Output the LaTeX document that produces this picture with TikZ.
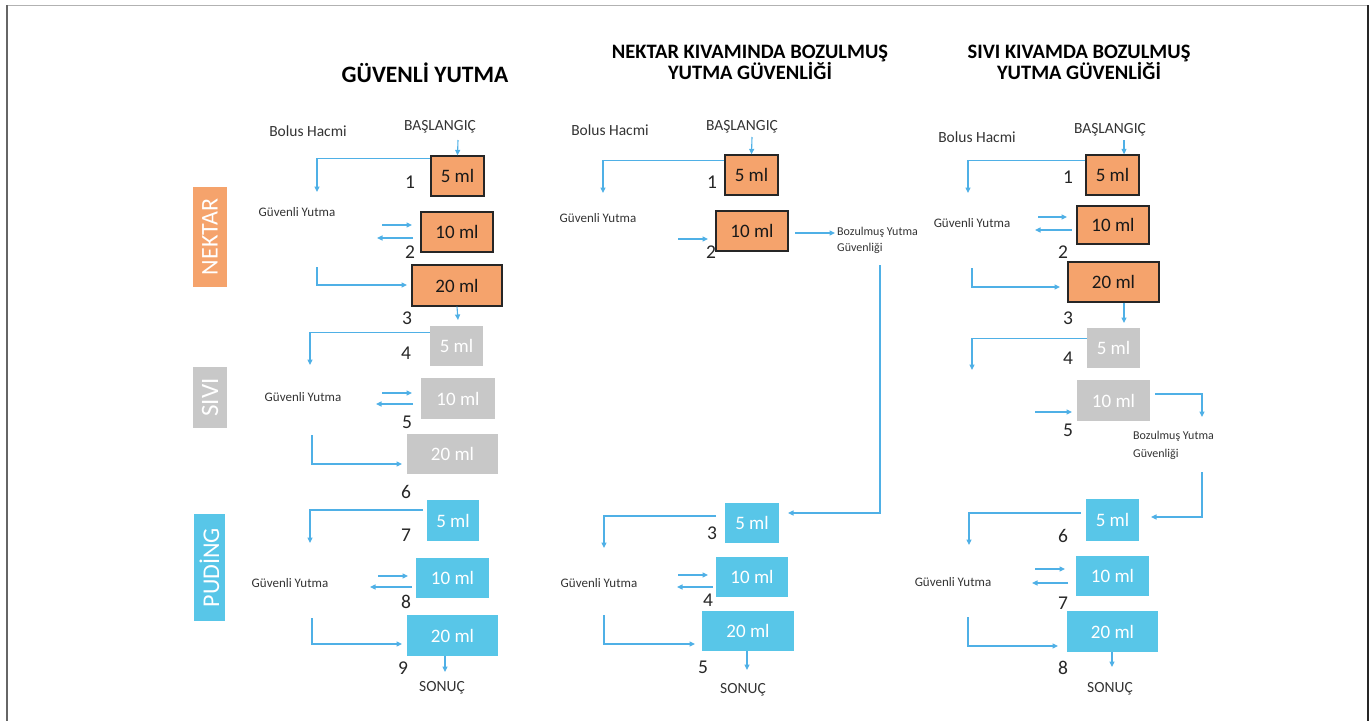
\documentclass[tikz,border=0pt]{standalone}
\usepackage{fontspec}
\setmainfont{Carlito}
\usetikzlibrary{arrows.meta}
\definecolor{orangeC}{HTML}{F5A36C}
\definecolor{grayC}{HTML}{C8C8C8}
\definecolor{blueC}{HTML}{58C6E8}
\definecolor{arrowC}{HTML}{4FB0E6}
\definecolor{txtC}{HTML}{333333}
\tikzset{
  box/.style={rectangle, inner sep=0pt, font=\fontsize{19}{21}\selectfont},
  obox/.style={box, fill=orangeC, draw=black!85, line width=1.3pt, text=black!90},
  gbox/.style={box, fill=grayC, text=white},
  bbox/.style={box, fill=blueC, text=white},
  arr/.style={draw=arrowC, line width=1.1pt, -{Triangle[length=5.5pt,width=5pt]}},
  ttl/.style={font=\bfseries\fontsize{20.5}{21}\selectfont, text=black, align=center},
  lbl/.style={font=\fontsize{15.5}{17}\selectfont, text=txtC, inner sep=0pt},
  gy/.style={font=\fontsize{13}{15}\selectfont, text=txtC, inner sep=0pt},
  bz/.style={font=\fontsize{12}{16}\selectfont, text=txtC, inner sep=0pt, align=left, anchor=west},
  num/.style={font=\fontsize{19.5}{21}\selectfont, text=black!85, inner sep=0pt},
  side/.style={rectangle, inner sep=0pt, text=white, font=\fontsize{24}{26}\selectfont}
}
\begin{document}
\begin{tikzpicture}[x=1pt,y=-1pt]
\useasboundingbox (0,0) rectangle (1371,721);
% frame
\draw[draw=black!30, line width=1pt] (7,5) -- (1368,5);
\draw[draw=black!60, line width=2pt] (7,5) -- (7,721);
\draw[draw=black!85, line width=1.5pt] (1368,5) -- (1368,721);

% side labels
\node[side, fill=orangeC, minimum width=34pt, minimum height=100pt] (sN) at (210,237) {};
\node[rotate=90, text=white, font=\fontsize{24}{25}\selectfont] (sNt) at (sN.center) {NEKTAR};
\node[side, fill=grayC, minimum width=34pt, minimum height=61pt] (sS) at (210,397.5) {};
\node[rotate=90, text=white, font=\fontsize{25}{27}\selectfont] (sSt) at (sS.center) {SIVI};
\node[side, fill=blueC, minimum width=31pt, minimum height=107pt] (sP) at (209.5,567.5) {};
\node[rotate=90, text=white, font=\fontsize{24}{25}\selectfont] (sPt) at (sP.center) {PUDİNG};

% ================= LEFT COLUMN =================
\node[ttl, font=\bfseries\fontsize{23.5}{25}\selectfont] (t1) at (425,73) {GÜVENLİ YUTMA};
\node[lbl] (bh1) at (308,131) {Bolus Hacmi};
\node[lbl] (s1) at (440,127) {BAŞLANGIÇ};
\node[obox, minimum width=53pt, minimum height=40pt] (b1) at (457.5,176) {5 ml};
\node[obox, minimum width=72pt, minimum height=40pt] (b2) at (457,232) {10 ml};
\node[obox, minimum width=90pt, minimum height=41pt] (b3) at (457,285.5) {20 ml};
\node[gbox, minimum width=53pt, minimum height=40pt] (b4) at (456.5,346) {5 ml};
\node[gbox, minimum width=74pt, minimum height=41pt] (b5) at (458,398.5) {10 ml};
\node[gbox, minimum width=91pt, minimum height=40pt] (b6) at (452.5,454) {20 ml};
\node[bbox, minimum width=52pt, minimum height=41pt] (b7) at (453,520.5) {5 ml};
\node[bbox, minimum width=73pt, minimum height=40pt] (b8) at (452.5,578) {10 ml};
\node[bbox, minimum width=91pt, minimum height=41pt] (b9) at (452.5,635.5) {20 ml};
\node[lbl] (son1) at (442,688) {SONUÇ};
\node[num] (ln1) at (410,182) {1};
\node[num] (ln2) at (410,252) {2};
\node[num] (ln3) at (407,318) {3};
\node[num] (ln4) at (406,353) {4};
\node[num] (ln5) at (407,422) {5};
\node[num] (ln6) at (406,492) {6};
\node[num] (ln7) at (406,535) {7};
\node[num] (ln8) at (406,602) {8};
\node[num] (ln9) at (403,668) {9};
\node[gy] (g1) at (297,212) {Güvenli Yutma};
\node[gy] (g2) at (303,397) {Güvenli Yutma};
\node[gy] (g3) at (290,583) {Güvenli Yutma};
% connector coordinates
\coordinate (L1a) at (458,140);
\coordinate (L1b) at (317,192);
\coordinate (L2a) at (382,225); \coordinate (L2b) at (412,225);
\coordinate (L2c) at (413,238); \coordinate (L2d) at (377,238);
\coordinate (L3a) at (317,267); \coordinate (L3b) at (407,285);
\coordinate (L4a) at (458,320);
\coordinate (L5b) at (310,365);
\coordinate (L6a) at (382,393); \coordinate (L6b) at (412,393);
\coordinate (L6c) at (413,404); \coordinate (L6d) at (376,404);
\coordinate (L7a) at (312,435); \coordinate (L7b) at (402,464);
\coordinate (L8a) at (423,510); \coordinate (L8b) at (310,543);
\coordinate (L9a) at (378,576); \coordinate (L9b) at (408,576);
\coordinate (L9c) at (412,587); \coordinate (L9d) at (370,587);
\coordinate (L10a) at (312,618); \coordinate (L10b) at (402,644);
\coordinate (L11a) at (445,672);
\draw[arr] (L1a) -- (b1.north);
\draw[arr] ([yshift=-3pt]b1.north west) -| (L1b);
\draw[arr] (L2a) -- (L2b);
\draw[arr] (L2c) -- (L2d);
\draw[arr] (L3a) |- (L3b);
\draw[arr] (b3.south) -- (L4a);
\draw[arr] ([yshift=-7pt]b4.north west) -| (L5b);
\draw[arr] (L6a) -- (L6b);
\draw[arr] (L6c) -- (L6d);
\draw[arr] (L7a) |- (L7b);
\draw[arr] (L8a) -| (L8b);
\draw[arr] (L9a) -- (L9b);
\draw[arr] (L9c) -- (L9d);
\draw[arr] (L10a) |- (L10b);
\draw[arr] (b9.south -| L11a) -- (L11a);

% ================= MIDDLE COLUMN =================
\node[ttl] (t2) at (750,62.5) {NEKTAR KIVAMINDA BOZULMUŞ\\YUTMA GÜVENLİĞİ};
\node[lbl] (bh2) at (610,130) {Bolus Hacmi};
\node[lbl] (s2) at (742,127) {BAŞLANGIÇ};
\node[obox, minimum width=53pt, minimum height=40pt] (m1) at (751.5,175) {5 ml};
\node[obox, minimum width=72pt, minimum height=40pt] (m2) at (752,231) {10 ml};
\node[bbox, minimum width=54pt, minimum height=40pt] (m3) at (752,523) {5 ml};
\node[bbox, minimum width=72pt, minimum height=40pt] (m4) at (752,577) {10 ml};
\node[bbox, minimum width=92pt, minimum height=40pt] (m5) at (748,631) {20 ml};
\node[lbl] (son2) at (743,690) {SONUÇ};
\node[num] (mn1) at (712,182) {1};
\node[num] (mn2) at (711,252) {2};
\node[num] (mn3) at (712,533) {3};
\node[num] (mn4) at (708,600) {4};
\node[num] (mn5) at (703,667) {5};
\node[gy] (g4) at (598,218) {Güvenli Yutma};
\node[gy] (g5) at (599,583) {Güvenli Yutma};
\node[bz] (bz1) at (837,240) {Bozulmuş Yutma\\Güvenliği};
\coordinate (M1a) at (752,137);
\coordinate (M1b) at (603,193);
\coordinate (M2a) at (678,239); \coordinate (M2b) at (708,239);
\coordinate (M3a) at (795,233); \coordinate (M3b) at (835,233);
\coordinate (M4a) at (880,265); \coordinate (M4b) at (788,513);
\coordinate (M5a) at (716,516); \coordinate (M5b) at (604,548);
\coordinate (M6a) at (678,575); \coordinate (M6b) at (708,575);
\coordinate (M6c) at (713,587); \coordinate (M6d) at (677,587);
\coordinate (M7a) at (604,615); \coordinate (M7b) at (695,644);
\coordinate (M8a) at (747,670);
\draw[arr] (M1a) -- (m1.north);
\draw[arr] ([yshift=-6pt]m1.north west) -| (M1b);
\draw[arr] (M2a) -- (M2b);
\draw[arr] (M3a) -- (M3b);
\draw[arr] (M4a) |- (M4b);
\draw[arr] (M5a) -| (M5b);
\draw[arr] (M6a) -- (M6b);
\draw[arr] (M6c) -- (M6d);
\draw[arr] (M7a) |- (M7b);
\draw[arr] (m5.south -| M8a) -- (M8a);

% ================= RIGHT COLUMN =================
\node[ttl] (t3) at (1079,62.5) {SIVI KIVAMDA BOZULMUŞ\\YUTMA GÜVENLİĞİ};
\node[lbl] (bh3) at (977,137) {Bolus Hacmi};
\node[lbl] (s3) at (1110,130) {BAŞLANGIÇ};
\node[obox, minimum width=53pt, minimum height=40pt] (r1) at (1112.5,175) {5 ml};
\node[obox, minimum width=72pt, minimum height=38pt] (r2) at (1113,225) {10 ml};
\node[obox, minimum width=91pt, minimum height=40pt] (r3) at (1113.5,282) {20 ml};
\node[gbox, minimum width=53pt, minimum height=40pt] (r4) at (1113.5,348) {5 ml};
\node[gbox, minimum width=73pt, minimum height=41pt] (r5) at (1113.5,400.5) {10 ml};
\node[bbox, minimum width=53pt, minimum height=42pt] (r6) at (1112.5,520) {5 ml};
\node[bbox, minimum width=73pt, minimum height=40pt] (r7) at (1112.5,576) {10 ml};
\node[bbox, minimum width=91pt, minimum height=41pt] (r8) at (1112.5,631.5) {20 ml};
\node[lbl] (son3) at (1110,689) {SONUÇ};
\node[num] (rn1) at (1068,177) {1};
\node[num] (rn2) at (1063,252) {2};
\node[num] (rn3) at (1068,318) {3};
\node[num] (rn4) at (1068,358) {4};
\node[num] (rn5) at (1068,430) {5};
\node[num] (rn6) at (1063,536) {6};
\node[num] (rn7) at (1063,603) {7};
\node[num] (rn8) at (1063,668) {8};
\node[gy] (g6) at (972,223) {Güvenli Yutma};
\node[gy] (g7) at (953,582) {Güvenli Yutma};
\node[bz, font=\fontsize{12}{18}\selectfont] (bz2) at (1133,445) {Bozulmuş Yutma\\Güvenliği};
\coordinate (R1a) at (1124,140);
\coordinate (R1b) at (968,193);
\coordinate (R2a) at (1038,217); \coordinate (R2b) at (1067,217);
\coordinate (R2c) at (1072,230); \coordinate (R2d) at (1035,230);
\coordinate (R3a) at (972,268); \coordinate (R3b) at (1060,287);
\coordinate (R4a) at (1124,323);
\coordinate (R5b) at (972,370);
\coordinate (R6a) at (1035,412); \coordinate (R6b) at (1072,412);
\coordinate (R7a) at (1155,394); \coordinate (R7b) at (1202,417);
\coordinate (R8a) at (1202,472); \coordinate (R8b) at (1151,517);
\coordinate (R9a) at (1081,513); \coordinate (R9b) at (969,545);
\coordinate (R10a) at (1035,569); \coordinate (R10b) at (1065,569);
\coordinate (R10c) at (1068,583); \coordinate (R10d) at (1032,583);
\coordinate (R11a) at (968,617); \coordinate (R11b) at (1058,646);
\coordinate (R12a) at (1112,667);
\draw[arr] (R1a) -- (R1a |- r1.north);
\draw[arr] ([yshift=-6pt]r1.north west) -| (R1b);
\draw[arr] (R2a) -- (R2b);
\draw[arr] (R2c) -- (R2d);
\draw[arr] (R3a) |- (R3b);
\draw[arr] (R4a |- r3.south) -- (R4a);
\draw[arr] ([yshift=-11pt]r4.north west) -| (R5b);
\draw[arr] (R6a) -- (R6b);
\draw[arr] (R7a) -| (R7b);
\draw[arr] (R8a) |- (R8b);
\draw[arr] (R9a) -| (R9b);
\draw[arr] (R10a) -- (R10b);
\draw[arr] (R10c) -- (R10d);
\draw[arr] (R11a) |- (R11b);
\draw[arr] (r8.south -| R12a) -- (R12a);
\end{tikzpicture}
\end{document}
